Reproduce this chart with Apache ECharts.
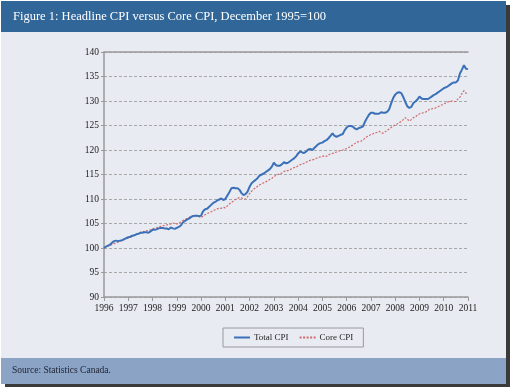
<!DOCTYPE html>
<html>
<head>
<meta charset="utf-8">
<script src="https://cdn.jsdelivr.net/npm/echarts@6/dist/echarts.min.js"></script>
<style>
html,body{margin:0;padding:0;background:#ffffff;}
#chart{width:512px;height:389px;}
</style>
</head>
<body>
<div id="chart"></div>
<script>
// ---- data (monthly, Dec 1995 = 100) ----
const titleText = 'Figure 1: Headline CPI versus Core CPI, December 1995=100';
const sourceText = 'Source: Statistics Canada.';
const seriesNames = ['Total CPI', 'Core CPI'];
const startYear = 1996;      // first point = December 1995, plotted at start of 1996
const endYear = 2011;
const yMin = 90, yMax = 140, yStep = 5;

const totalCPI = [
 100.0,100.3,100.5,100.7,101.1,101.4,101.5,101.4,101.5,101.6,101.8,102.0,
 102.2,102.3,102.5,102.6,102.8,102.9,103.1,103.1,103.2,103.2,103.1,103.4,
 103.7,103.7,103.8,104.0,104.1,104.1,104.0,104.0,103.8,104.2,104.0,103.9,
 104.1,104.3,104.6,105.2,105.5,105.8,106.0,106.3,106.5,106.6,106.6,106.5,
 106.6,107.5,107.9,108.0,108.4,108.8,109.2,109.4,109.7,109.9,110.1,109.8,
 110.0,110.7,111.4,112.2,112.3,112.2,112.2,111.9,111.2,110.8,111.0,111.5,
 112.5,113.2,113.6,113.9,114.3,114.8,115.0,115.2,115.5,115.8,116.1,116.6,
 117.4,116.9,116.8,116.8,117.1,117.5,117.3,117.4,117.7,118.0,118.3,118.7,
 119.3,119.7,119.5,119.4,119.7,120.1,120.2,120.0,120.4,120.8,121.2,121.4,
 121.5,121.8,122.0,122.4,122.9,123.4,122.9,122.7,122.9,123.1,123.2,124.0,
 124.6,124.9,124.9,124.8,124.4,124.2,124.5,124.6,124.8,125.7,126.5,127.2,
 127.6,127.6,127.4,127.4,127.4,127.7,127.6,127.6,127.8,128.3,129.5,130.6,
 131.3,131.7,131.8,131.6,130.8,129.8,128.9,128.6,128.8,129.6,129.9,130.3,
 130.9,130.5,130.4,130.4,130.4,130.6,130.9,131.2,131.4,131.7,132.0,132.3,
 132.6,132.8,133.0,133.3,133.6,133.8,133.8,134.2,135.6,136.4,137.3,136.6,
 136.5
];
const coreCPI = [
 100.0,100.2,100.4,100.5,100.7,100.9,101.0,101.2,101.4,101.6,101.7,101.9,
 102.0,102.2,102.4,102.6,102.8,103.0,103.2,103.3,103.4,103.5,103.6,103.7,
 103.9,104.0,104.1,104.3,104.4,104.5,104.6,104.7,104.8,104.9,105.1,105.0,
 104.9,105.1,105.3,105.6,105.8,106.0,106.2,106.5,106.6,106.6,106.5,106.4,
 106.2,106.5,106.8,107.0,107.2,107.4,107.6,107.8,108.0,108.1,108.1,108.3,
 108.2,108.6,109.0,109.3,109.6,109.9,110.1,110.3,110.2,110.0,110.0,110.5,
 111.1,111.6,112.0,112.3,112.6,112.9,113.1,113.3,113.5,113.7,114.0,114.2,
 114.6,114.8,115.0,115.2,115.3,115.6,115.8,115.8,116.0,116.2,116.4,116.5,
 116.8,117.0,117.1,117.3,117.5,117.7,117.9,118.0,118.1,118.3,118.5,118.6,
 118.7,118.8,118.7,119.0,119.2,119.3,119.5,119.6,119.8,119.9,120.0,120.1,
 120.3,120.5,120.8,121.0,121.3,121.6,121.7,121.8,122.0,122.4,122.7,122.9,
 123.2,123.3,123.5,123.6,123.8,123.6,123.4,123.7,124.0,124.3,124.6,124.9,
 125.1,125.3,125.6,125.8,126.2,126.6,126.3,125.9,126.2,126.6,126.8,127.1,
 127.4,127.5,127.6,127.7,128.0,128.3,128.4,128.5,128.6,128.8,129.0,129.2,
 129.4,129.6,129.8,129.9,130.0,129.9,129.9,130.4,130.8,131.5,132.1,131.6,
 131.4
];

// ---- build ----
const toPairs = arr => arr.map((v, i) => [startYear + i / 12, v]);
const serif = '"Liberation Serif", "DejaVu Serif", serif';

const chart = echarts.init(document.getElementById('chart'), null, {renderer: 'canvas'});
chart.setOption({
  animation: false,
  backgroundColor: '#ffffff',
  graphic: [
    {type: 'rect', shape: {x: 5, y: 5, width: 505, height: 382}, style: {fill: '#3a3a3a'}, z: -10},
    {type: 'rect', shape: {x: 1, y: 1, width: 505, height: 383}, style: {fill: '#e8ebf2'}, z: -9},
    {type: 'rect', shape: {x: 1, y: 1, width: 505, height: 31}, style: {fill: '#306698'}, z: -8},
    {type: 'rect', shape: {x: 1, y: 358, width: 505, height: 26}, style: {fill: '#8ba3c4'}, z: -8},
    {type: 'text', left: 13, top: 10, style: {text: titleText, fill: '#ffffff', font: '12.5px ' + serif}, z: 10},
    {type: 'text', left: 12, top: 365, style: {text: sourceText, fill: '#1e2233', font: '9.5px ' + serif}, z: 10}
  ],
  legend: {
    data: seriesNames,
    left: 223, top: 328,
    padding: [5, 10, 5, 10],
    itemGap: 10, itemWidth: 16, itemHeight: 8,
    borderColor: '#9a9a9a', borderWidth: 1,
    itemStyle: {color: 'rgba(0,0,0,0)', borderWidth: 0, opacity: 0},
    textStyle: {fontFamily: serif, fontSize: 9, color: '#222', padding: [0, 0, 0, -1]}
  },
  grid: {left: 104, right: 44, top: 52, bottom: 92, containLabel: false},
  xAxis: [{
    type: 'value', min: startYear, max: endYear, interval: 1,
    axisLine: {show: true, lineStyle: {color: '#9a9a9a', width: 1.5}},
    axisTick: {show: true, length: 4, lineStyle: {color: '#9a9a9a'}},
    axisLabel: {color: '#222', fontFamily: serif, fontSize: 9.5, margin: 6, formatter: v => String(v)},
    splitLine: {show: false}
  }, {
    type: 'value', position: 'top', min: startYear, max: endYear,
    axisLine: {show: true, lineStyle: {color: '#9a9a9a', width: 1.5}},
    axisTick: {show: false}, axisLabel: {show: false}, splitLine: {show: false}
  }],
  yAxis: {
    type: 'value', min: yMin, max: yMax, interval: yStep,
    axisLine: {show: true, lineStyle: {color: '#9a9a9a', width: 1.5}},
    axisTick: {show: true, length: 3, lineStyle: {color: '#9a9a9a'}},
    axisLabel: {color: '#222', fontFamily: serif, fontSize: 9.5, margin: 5},
    splitLine: {show: true, lineStyle: {color: '#a8a8a8', type: [3, 2], width: 1}}
  },
  series: [{
    name: seriesNames[0], type: 'line', data: toPairs(totalCPI),
    showSymbol: false, symbol: 'none',
    lineStyle: {color: '#3b71b8', width: 2},
    itemStyle: {color: '#3b71b8'}, z: 3
  }, {
    name: seriesNames[1], type: 'line', data: toPairs(coreCPI),
    showSymbol: false, symbol: 'none',
    lineStyle: {color: '#d06a6c', width: 1.2, type: [2, 1.5]},
    itemStyle: {color: '#d06a6c'}, z: 2
  }]
});
</script>
</body>
</html>
